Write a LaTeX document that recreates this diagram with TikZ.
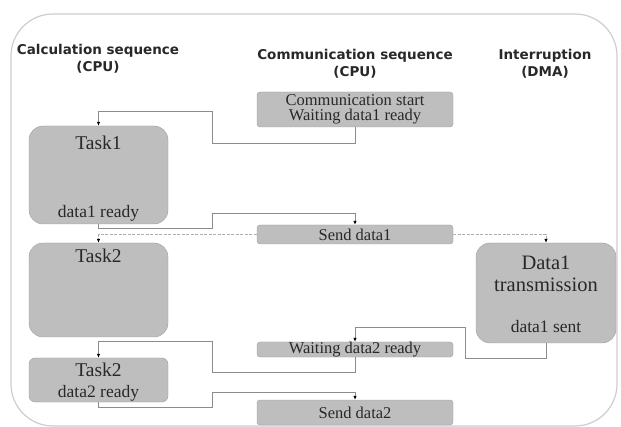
\documentclass[tikz,border=0pt]{standalone}
\usepackage{fontspec}
\setmainfont{Liberation Serif}
\newfontfamily\headfont{DejaVu Sans}
\usetikzlibrary{arrows.meta}
\definecolor{boxgray}{RGB}{190,190,190}
\definecolor{edgegray}{RGB}{158,158,158}
\definecolor{linegray}{RGB}{140,140,140}
\definecolor{framegray}{RGB}{205,205,205}
\definecolor{inkgray}{RGB}{40,40,40}
\newcommand{\bigtxt}{\fontsize{19.5}{21}\selectfont}
\newcommand{\midtxt}{\fontsize{16.5}{15}\selectfont}
\newcommand{\headtxt}{\headfont\bfseries\fontsize{13.5}{17.5}\selectfont}
\tikzset{taskbox/.style={draw=edgegray, fill=boxgray, rounded corners=14pt, minimum width=139pt, inner sep=0pt},
  seqbox/.style={draw=edgegray, fill=boxgray, rounded corners=3pt, minimum width=196pt, inner sep=0pt, text=inkgray, font=\midtxt},
  flowarrow/.style={-{Latex[length=4pt,width=3.5pt,color=black]}, draw=linegray, line width=0.8pt},
  dmaarrow/.style={flowarrow, draw=linegray!70, dash pattern=on 3pt off 1.5pt},
  seqhead/.style={align=center, text=inkgray, font=\headtxt}}

\begin{document}
\begin{tikzpicture}[x=1pt, y=1pt]
\useasboundingbox (0,0) rectangle (621,-427);
\draw[framegray, line width=1.2pt, rounded corners=42pt] (11,-14) rectangle (617,-426);
% column heads
\node[seqhead] (calchead) at (98,-59) {Calculation sequence\\(CPU)};
\node[seqhead] (commhead) at (355,-64) {Communication sequence\\(CPU)};
\node[seqhead] (dmahead) at (545,-64) {Interruption\\(DMA)};
% boxes
\node[seqbox, minimum height=35pt, align=center] (start) at (355,-109.5) {Communication start\\Waiting data1 ready};
\node[taskbox, minimum height=98pt] (task1) at (98.5,-175) {};
\node[seqbox, minimum height=19pt] (send1) at (355,-234.5) {Send data1};
\node[taskbox, minimum height=94pt] (task2) at (98.5,-290) {};
\node[taskbox, minimum width=140pt, minimum height=100pt] (dt) at (546,-293) {};
\node[seqbox, minimum height=15pt] (wait2) at (355,-349.5) {Waiting data2 ready};
\node[taskbox, minimum height=44pt, rounded corners=6pt] (task2b) at (98.5,-380) {};
\node[seqbox, minimum height=25pt] (send2) at (355,-412.5) {Send data2};
% texts in the big boxes
\node[anchor=base, text=inkgray, font=\bigtxt] (t1name) at ([yshift=-24pt]task1.north) {Task1};
\node[anchor=base, text=inkgray, font=\fontsize{17.5}{18}\selectfont] (t1ready) at ([yshift=7pt]task1.south) {data1 ready};
\node[anchor=base, text=inkgray, font=\bigtxt] (t2name) at ([yshift=-20pt]task2.north) {Task2};
\node[anchor=base, text=inkgray, font=\bigtxt] (t2bname) at ([yshift=-19pt]task2b.north) {Task2};
\node[anchor=base, text=inkgray, font=\fontsize{17.5}{18}\selectfont] (t2bready) at ([yshift=5pt]task2b.south) {data2 ready};
\node[anchor=base, text=inkgray, font=\fontsize{20.5}{21}\selectfont] (dtname) at ([yshift=-27pt]dt.north) {Data1};
\node[anchor=base, text=inkgray, font=\fontsize{20.5}{21}\selectfont] (dttrans) at ([yshift=-49pt]dt.north) {transmission};
\node[anchor=base, text=inkgray, font=\fontsize{17.5}{18}\selectfont] (dtsent) at ([yshift=11pt]dt.south) {data1 sent};
% connectors
\draw[flowarrow] (start.south) |- ++(-143,-16) |- ([yshift=14pt]task1.north) -- (task1.north);
\draw[flowarrow] (task1.south) |- ++(114,-4) |- ([yshift=11pt]send1.north) -- (send1.north);
\draw[dmaarrow] (send1.west) -| (task2.north);
\draw[dmaarrow] (send1.east) -| (dt.north);
\draw[flowarrow] (dt.south) |- ++(-81,-15) |- ([yshift=14pt]wait2.north) -- (wait2.north);
\draw[flowarrow] (wait2.south) |- ++(-143,-15) |- ([yshift=16pt]task2b.north) -- (task2b.north);
\draw[flowarrow] (task2b.south) |- ++(114,-5) |- ([yshift=7pt]send2.north) -- (send2.north);
\end{tikzpicture}
\end{document}
